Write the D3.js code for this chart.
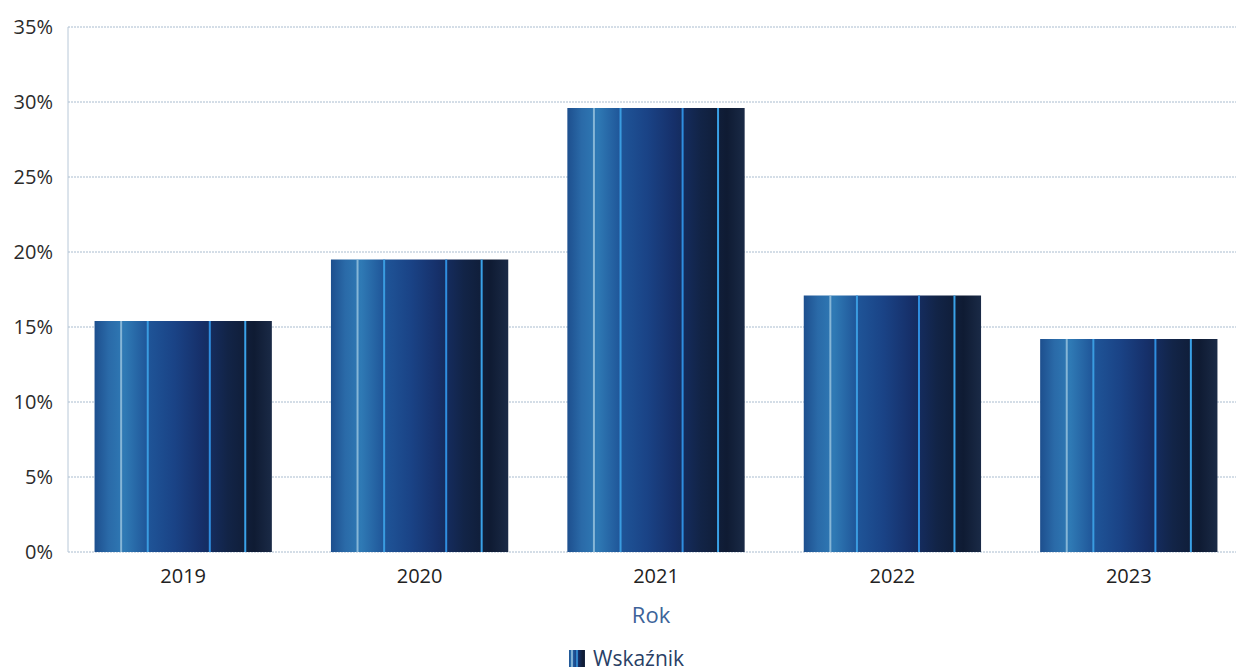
<!DOCTYPE html>
<html><head><meta charset="utf-8">
<script src="https://cdn.jsdelivr.net/npm/d3@7"></script>
<style>
body{margin:0;background:#fff;}
svg{display:block;font-family:"Open Sans","DejaVu Sans",sans-serif;}
</style></head>
<body><svg id="c" width="1242" height="671"></svg>
<script>
const categories = ["2019","2020","2021","2022","2023"];
const values = [15.4, 19.5, 29.6, 17.1, 14.2];
const yTicks = [0,5,10,15,20,25,30,35];
const seriesName = "Wskaźnik";
const axisTitle = "Rok";

const svg = d3.select("#c");
const m = {l:68, r:1247, t:27, b:552};
const x = d3.scaleBand().domain(categories).range([m.l-3, m.r]).paddingInner(0.25).paddingOuter(0.125);
const y = d3.scaleLinear().domain([0,35]).range([m.b, m.t]);

const defs = svg.append("defs");
const g = defs.append("linearGradient").attr("id","bg").attr("x1","0").attr("x2","1").attr("y1","0").attr("y2","0");
[[0,"#1d4f8e"],[0.08,"#2a6aa8"],[0.17,"#2f7ab5"],[0.3,"#1f5598"],[0.45,"#1a4386"],[0.6,"#16306a"],[0.75,"#122447"],[0.9,"#0f1b33"],[1,"#1a2a46"]]
 .forEach(([o,c])=>g.append("stop").attr("offset",o).attr("stop-color",c));

// grid
svg.append("g").selectAll("line").data(yTicks).join("line")
 .attr("x1",m.l).attr("x2",1236).attr("y1",d=>y(d)).attr("y2",d=>y(d))
 .attr("stroke","#a9bccf").attr("stroke-width",1).attr("stroke-dasharray","2,1");
svg.append("line").attr("x1",m.l).attr("x2",m.l).attr("y1",m.t).attr("y2",m.b).attr("stroke","#b8c8d8");

// y labels
svg.append("g").selectAll("text").data(yTicks).join("text")
 .attr("x",53).attr("y",d=>y(d)+7).attr("text-anchor","end")
 .attr("font-size",20).attr("fill","#2b2b2b").text(d=>d+"%");

// bars
const bars = svg.append("g").selectAll("g").data(categories).join("g");
bars.append("rect").attr("x",d=>x(d)).attr("width",x.bandwidth())
 .attr("y",(d,i)=>y(values[i])).attr("height",(d,i)=>y(0)-y(values[i]))
 .attr("fill","url(#bg)");
const stripes = [[0.15,"#9cc6e0",0.8],[0.3,"#3a9ce0",1],[0.65,"#2f8ee0",1],[0.85,"#3aa2e8",1]];
bars.each(function(d,i){
  const gg = d3.select(this);
  stripes.forEach(([f,c,o])=>{
    gg.append("line").attr("x1",x(d)+f*x.bandwidth()).attr("x2",x(d)+f*x.bandwidth())
      .attr("y1",y(values[i])).attr("y2",y(0)).attr("stroke",c).attr("stroke-width",2).attr("opacity",o);
  });
});

// x labels
svg.append("g").selectAll("text").data(categories).join("text")
 .attr("x",d=>x(d)+x.bandwidth()/2).attr("y",583).attr("text-anchor","middle")
 .attr("font-size",20).attr("fill","#222").text(d=>d);

svg.append("text").attr("x",(x(categories[2])+x.bandwidth()/2)-5).attr("y",623).attr("text-anchor","middle")
 .attr("font-size",22).attr("fill","#3d6399").text(axisTitle);

// legend
const lg = svg.append("g").attr("transform","translate(569,650)");
lg.append("rect").attr("x",0).attr("y",0).attr("width",16).attr("height",17).attr("fill","url(#bg)");
[[3,"#9cc6e0"],[8,"#3a9ce0"]].forEach(([dx,c])=>lg.append("line").attr("x1",dx).attr("x2",dx).attr("y1",0).attr("y2",17).attr("stroke",c).attr("stroke-width",1.5));
lg.append("text").attr("x",24).attr("y",16).attr("font-size",21).attr("fill","#2a3f66").text(seriesName);
</script></body></html>
